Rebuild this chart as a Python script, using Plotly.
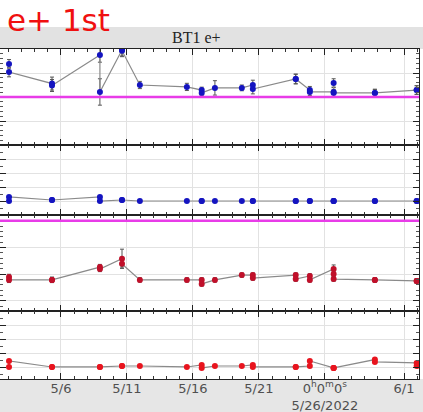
import plotly.graph_objects as go
from plotly.subplots import make_subplots

# ---------------- data ----------------
times = [
    "2022-05-02 01:30", "2022-05-02 01:30",
    "2022-05-05 07:40", "2022-05-05 07:40",
    "2022-05-08 22:50", "2022-05-08 22:50",
    "2022-05-10 15:00", "2022-05-10 15:00",
    "2022-05-11 23:30",
    "2022-05-15 13:00",
    "2022-05-16 16:00", "2022-05-16 16:00",
    "2022-05-17 16:00",
    "2022-05-19 17:00",
    "2022-05-20 13:00", "2022-05-20 13:00",
    "2022-05-23 19:00", "2022-05-23 19:00",
    "2022-05-24 20:40", "2022-05-24 20:40",
    "2022-05-26 16:00", "2022-05-26 16:00", "2022-05-26 16:00",
    "2022-05-29 19:00", "2022-05-29 19:00",
    "2022-06-01 23:00", "2022-06-01 23:00",
]

p1_val = [3.38, 3.04, 2.56, 2.48, 3.75, 2.21, 3.96, 3.93, 2.50, 2.42,
          2.29, 2.17, 2.38, 2.38, 2.50, 2.33, 2.75, 2.75, 2.29, 2.21,
          2.21, 2.58, 2.17, 2.17, 2.17, 2.29, 2.29]
p1_err = [0.18, 0.20, 0.27, 0.25, 0.30, 0.55, 0.25, 0.25, 0.15, 0.15,
          0.12, 0.12, 0.30, 0.12, 0.20, 0.20, 0.20, 0.20, 0.15, 0.15,
          0.20, 0.18, 0.15, 0.15, 0.15, 0.18, 0.18]

p2_val = [1.00, 1.29, 1.07, 1.07, 1.29, 1.00, 1.07, 1.07, 1.00, 1.00,
          1.00, 1.00, 1.00, 1.00, 1.00, 1.00, 1.00, 1.00, 1.00, 1.00,
          1.00, 1.00, 1.00, 1.00, 1.00, 1.00, 1.00]

p3_val = [0.90, 0.79, 0.79, 0.79, 1.27, 1.20, 1.58, 1.39, 0.79, 0.79,
          0.79, 0.64, 0.79, 0.97, 0.97, 0.86, 0.97, 0.82, 0.94, 0.79,
          1.20, 1.01, 0.82, 0.79, 0.79, 0.75, 0.75]
p3_err = [0.10, 0.10, 0.10, 0.10, 0.10, 0.10, 0.36, 0.12, 0.08, 0.08,
          0.08, 0.08, 0.08, 0.08, 0.08, 0.08, 0.08, 0.08, 0.08, 0.08,
          0.15, 0.10, 0.08, 0.08, 0.08, 0.08, 0.08]

p4_val = [0.07, 0.50, 0.07, 0.07, 0.07, 0.07, 0.14, 0.14, 0.14, 0.07,
          0.21, 0.00, 0.14, 0.14, 0.21, 0.07, 0.07, 0.07, 0.14, 0.50,
          0.00, 0.00, 0.00, 0.60, 0.43, 0.36, 0.14]
p4_err = [0.08, 0.08, 0.08, 0.08, 0.08, 0.08, 0.08, 0.08, 0.08, 0.08,
          0.08, 0.08, 0.08, 0.08, 0.08, 0.08, 0.08, 0.08, 0.08, 0.08,
          0.08, 0.08, 0.08, 0.08, 0.08, 0.08, 0.08]

tick_dates = ["2022-05-06", "2022-05-11", "2022-05-16", "2022-05-21",
              "2022-05-26", "2022-06-01"]
tick_text = ["5/6", "5/11", "5/16", "5/21",
             "0<sup>h</sup>0<sup>m</sup>0<sup>s</sup><br>5/26/2022", "6/1"]
x_range = ["2022-05-01 09:05", "2022-06-02 03:15"]

y_ranges = [[0, 4], [0, 5], [-0.375, 3.22], [-0.79, 4.07]]
y_minor = [0.2, 0.5, 0.2, 0.5]
ref_lines = {1: 2.0, 3: 3.0}

title_text = "BT1 e+"
overlay_text = "e+ 1st"

# ---------------- figure ----------------
fig = make_subplots(rows=4, cols=1, shared_xaxes=True, vertical_spacing=0,
                    row_heights=[96, 70, 96, 68])

BLUE = "#1414c0"
RED3 = "#c0102a"
RED4 = "#e8141e"
LINE = "#8a8a8a"
ERR = "#555555"

def add(row, vals, color, err=None):
    kw = {}
    if err is not None:
        kw["error_y"] = dict(type="data", array=err, visible=True,
                             color=ERR, thickness=1, width=2)
    fig.add_trace(go.Scatter(x=times, y=vals, mode="lines+markers",
                             line=dict(color=LINE, width=1.2),
                             marker=dict(color=color, size=6),
                             showlegend=False, **kw), row=row, col=1)

add(1, p1_val, BLUE, p1_err)
add(2, p2_val, BLUE)
add(3, p3_val, RED3, p3_err)
add(4, p4_val, RED4, p4_err)

for r, yv in ref_lines.items():
    fig.add_hline(y=yv, line=dict(color="#e83ce8", width=2.5), row=r, col=1)

for r in range(1, 5):
    fig.update_xaxes(
        row=r, col=1, range=x_range, tickmode="array", tickvals=tick_dates,
        ticktext=tick_text, showticklabels=(r == 4), ticks="inside",
        ticklen=6, tickwidth=1.2, tickcolor="#222", mirror="ticks",
        showline=True, linecolor="#222", linewidth=1.2,
        showgrid=True, gridcolor="#e2e2e2", gridwidth=1,
        ticklabelstandoff=-3, automargin=False,
        tickfont=dict(family="DejaVu Sans", size=13, color="#505050"),
        minor=dict(dtick=86400000, tick0="2022-05-01", ticks="inside",
                   ticklen=3, tickwidth=1, tickcolor="#333", showgrid=False),
    )
    fig.update_yaxes(
        row=r, col=1, range=y_ranges[r - 1], tickmode="linear", tick0=0,
        dtick=1, showticklabels=False, ticks="inside", ticklen=6,
        tickwidth=1, tickcolor="#222", mirror="ticks", showline=True,
        linecolor="#222", linewidth=1.2, showgrid=True, gridcolor="#e2e2e2",
        zeroline=False, automargin=False,
        minor=dict(dtick=y_minor[r - 1], ticks="inside", ticklen=3,
                   tickwidth=1, tickcolor="#555", showgrid=False),
    )

W, H = 423, 412
ML, MR, MT, MB = 0, 4, 49, 33
ph = H - MT - MB
pw = W - ML - MR

shapes = [
    dict(type="rect", xref="paper", yref="paper", x0=-0.01, x1=1.02,
         y0=1.0, y1=1 + 22 / ph, fillcolor="#e2e2e2", line_width=0,
         layer="below"),
    dict(type="rect", xref="paper", yref="paper", x0=-0.01, x1=1.02,
         y0=-MB / ph - 0.01, y1=0, fillcolor="#e6e6e6", line_width=0,
         layer="below"),
]

annotations = [
    dict(text=title_text, xref="paper", yref="paper", x=196 / pw,
         y=1 + 11 / ph, xanchor="center", yanchor="middle", showarrow=False,
         font=dict(family="Liberation Serif", size=16, color="#222")),
    dict(text=overlay_text, xref="paper", yref="paper", x=5 / pw,
         y=1 + 29 / ph, xanchor="left", yanchor="middle", showarrow=False,
         font=dict(family="DejaVu Sans", size=31, color="#f01010")),
]

fig.update_layout(
    width=W, height=H, margin=dict(l=ML, r=MR, t=MT, b=MB),
    paper_bgcolor="white", plot_bgcolor="white",
    shapes=list(fig.layout.shapes) + shapes,
    annotations=annotations,
)

fig.write_html("out.html", config={"displayModeBar": False},
               post_script="document.body.style.margin='0';"
                           "document.body.style.overflow='hidden';")
